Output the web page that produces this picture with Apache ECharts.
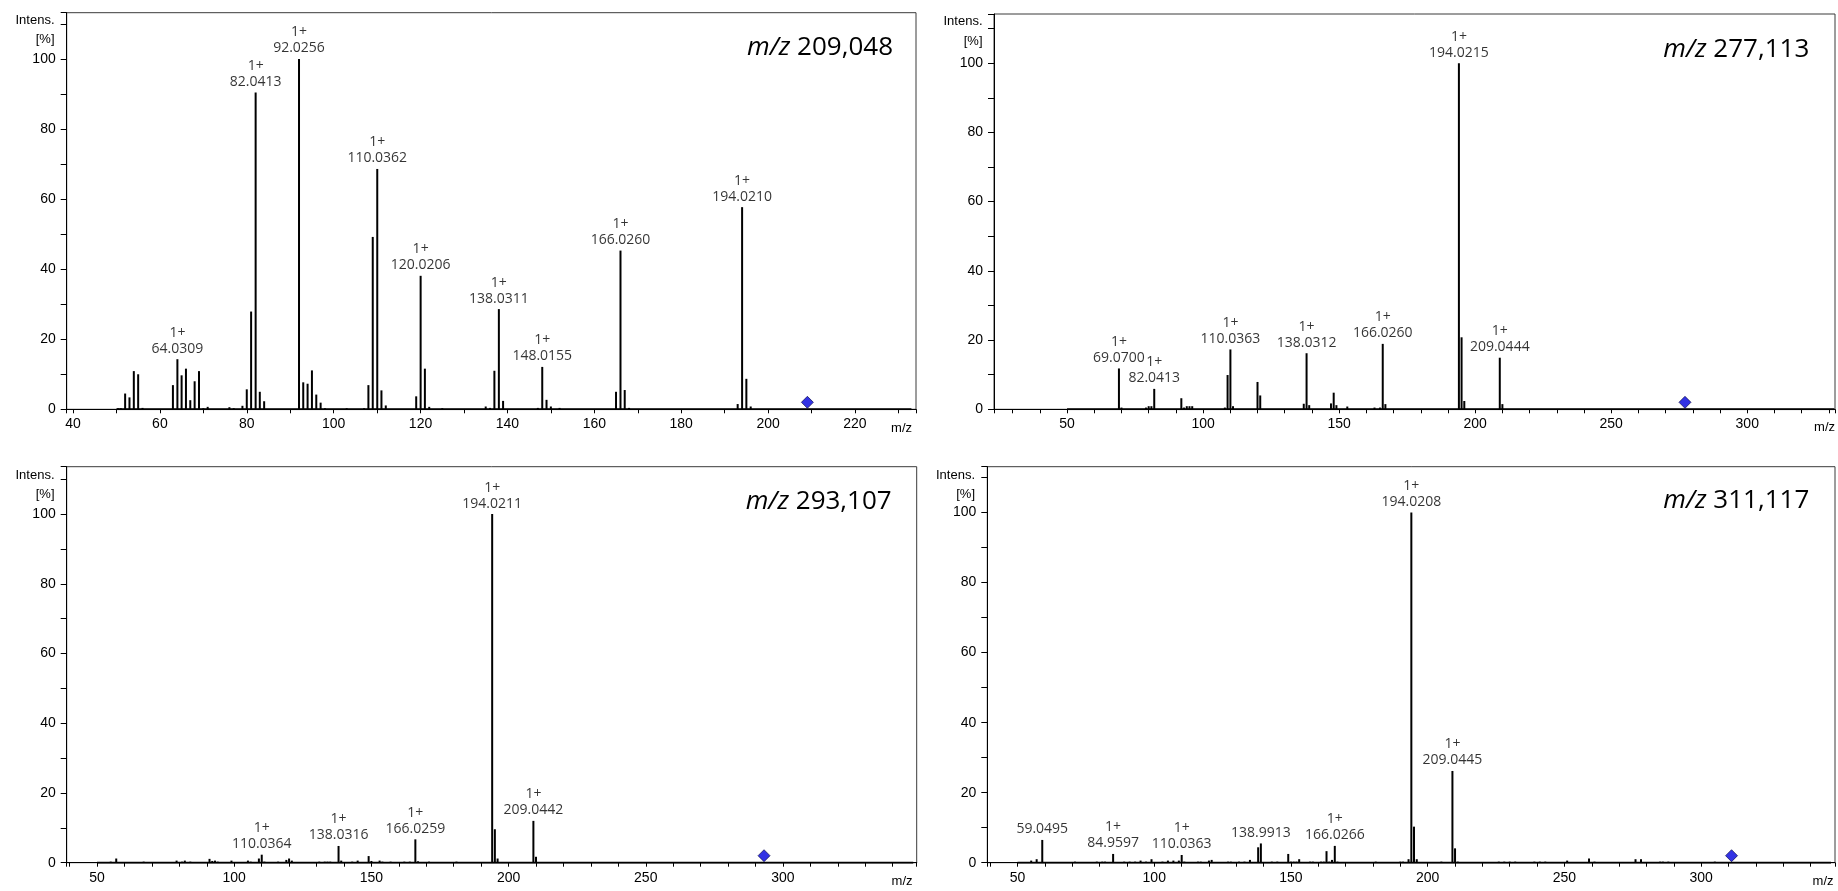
<!DOCTYPE html>
<html><head><meta charset="utf-8">
<script src="https://cdn.jsdelivr.net/npm/echarts@6/dist/echarts.min.js"></script>
<style>html,body{margin:0;padding:0;background:#fff;} #chart{width:1838px;height:891px;}</style>
</head><body><div id="chart"></div>
<script>
// ---------- Panel 1: precursor m/z 209,048 ----------
const p1Mz  = [50.4,51.0,52.0,53.0,54.0,55.0,56.0,63.0,64.0309,65.0,66.0,67.0,68.0,69.0,70.0,71.0,76.0,77.0,79.0,80.0,81.0,82.0413,83.0,84.0,92.0256,93.0,94.0,95.0,96.0,97.0,98.0,103.0,107.0,108.0,109.0,110.0362,111.0,112.0,119.0,120.0206,121.0,122.0,125.0,135.0,136.0,137.0,138.0311,139.0,147.0,148.0155,149.0,150.0,152.0,165.0,166.0260,167.0,168.0,193.0,194.0210,195.0,196.0];
const p1Int = [0.3,0.3,4.5,3.4,10.9,10.0,0.4,6.9,14.3,9.7,11.6,2.6,8.0,10.9,0.3,0.7,0.6,0.3,1.0,5.7,27.9,90.4,5.0,2.3,100,7.7,7.3,11.1,4.2,1.9,0.3,0.3,0.3,6.9,49.2,68.6,5.4,1.1,3.7,38.1,11.6,0.7,0.3,0.8,0.4,11.0,28.6,2.4,0.4,12.1,2.7,0.8,0.4,5.0,45.3,5.5,0.4,1.5,57.7,8.7,0.8];
const p1LabelMz = [64.0309,82.0413,92.0256,110.0362,120.0206,138.0311,148.0155,166.0260,194.0210];
const p1LabelCharge = ['1+','1+','1+','1+','1+','1+','1+','1+','1+'];
const p1Precursor = 209.048;
const p1Title = '209,048';
const p1ScanRange = [50, 233];

// ---------- Panel 2: precursor m/z 277,113 ----------
const p2Mz  = [69.0700,70.0,79.0,80.0,81.0,82.0413,92.0,93.0,94.0,95.0,96.0,108.0,109.0,110.0363,111.0,120.0,121.0,137.0,138.0312,139.0,147.0,148.0,149.0,153.0,163.0,165.0,166.0260,167.0,194.0215,195.0,196.0,209.0444,210.0];
const p2Int = [11.8,0.5,0.5,0.9,0.9,5.9,3.2,0.5,0.9,0.9,0.9,0.5,9.9,17.3,0.9,7.9,4.0,1.6,16.2,1.2,1.7,4.8,1.2,0.8,0.5,0.5,18.9,1.5,100,20.8,2.4,14.9,1.5];
const p2LabelMz = [69.0700,82.0413,110.0363,138.0312,166.0260,194.0215,209.0444];
const p2LabelCharge = ['1+','1+','1+','1+','1+','1+','1+'];
const p2Precursor = 277.113;
const p2Title = '277,113';
const p2ScanRange = [50, 332];

// ---------- Panel 3: precursor m/z 293,107 ----------
const p3Mz  = [55.0,57.0,67.0,79.0,81.0,82.0,84.0,91.0,92.0,93.0,94.0,99.0,105.0,106.0,109.0,110.0364,111.0,116.0,119.0,120.0,121.0,131.0,133.0,134.0,135.0,138.0316,139.0,143.0,145.0,149.0,150.0,153.0,154.0,157.0,162.0,164.0,166.0259,167.0,171.0,181.0,194.0211,195.0,196.0,209.0442,210.0];
const p3Int = [0.3,1.2,0.3,0.6,0.3,0.6,0.3,1.1,0.5,0.6,0.3,0.6,0.6,0.3,1.2,2.3,0.3,0.3,0.8,1.2,0.6,0.3,0.3,0.3,0.3,4.8,0.6,0.3,0.6,1.9,0.5,0.6,0.3,0.3,0.3,0.3,6.7,0.4,0.3,0.3,100,9.6,1.2,12.0,1.7];
const p3LabelMz = [110.0364,138.0316,166.0259,194.0211,209.0442];
const p3LabelCharge = ['1+','1+','1+','1+','1+'];
const p3Precursor = 293.107;
const p3Title = '293,107';
const p3ScanRange = [50, 347.5];

// ---------- Panel 4: precursor m/z 311,117 ----------
const p4Mz  = [55.0,57.0,59.0495,71.0,79.0,81.0,82.0,84.9597,89.0,91.0,93.0,95.0,97.0,99.0,103.0,105.0,107.0,109.0,110.0363,111.0,116.0,117.0,120.0,121.0,127.0,128.0,131.0,133.0,135.0,138.0,138.9913,143.0,145.0,149.0,150.0,151.0,152.0,153.0,157.0,158.0,161.0,162.0,163.0,164.0,165.0,166.0266,167.0,181.0,190.0,191.0,193.0,194.0208,195.0,196.0,205.0,209.0445,210.0,211.0,226.0,228.0,230.0,232.0,239.0,241.0,243.0,251.0,259.0,261.0,276.0,278.0,285.0,286.0,288.0,305.0];
const p4Int = [0.6,1.0,6.5,0.3,0.3,0.3,0.3,2.5,0.3,0.3,0.3,0.6,0.3,1.0,0.3,0.6,0.6,0.6,2.2,0.3,0.3,0.3,0.6,0.8,0.3,0.3,0.3,0.3,0.8,4.4,5.5,0.3,0.3,2.5,0.3,0.3,0.3,1.0,0.3,0.3,0.3,0.3,3.3,0.3,0.8,4.8,0.3,0.3,0.3,0.3,1.0,100,10.3,1.0,0.3,26.2,4.1,0.3,0.3,0.3,0.3,0.3,0.3,0.3,0.3,0.6,1.2,0.3,1.0,1.0,0.3,0.3,0.3,0.3];
const p4LabelMz = [59.0495,84.9597,110.0363,138.9913,166.0266,194.0208,209.0445];
const p4LabelCharge = ['','1+','1+','','1+','1+','1+'];
const p4Precursor = 311.117;
const p4Title = '311,117';
const p4ScanRange = [50, 347.5];

// ---------- assemble ----------
const panels = [
  {mz:p1Mz, it:p1Int, lmz:p1LabelMz, lz:p1LabelCharge, prec:p1Precursor, title:p1Title, range:p1ScanRange},
  {mz:p2Mz, it:p2Int, lmz:p2LabelMz, lz:p2LabelCharge, prec:p2Precursor, title:p2Title, range:p2ScanRange},
  {mz:p3Mz, it:p3Int, lmz:p3LabelMz, lz:p3LabelCharge, prec:p3Precursor, title:p3Title, range:p3ScanRange},
  {mz:p4Mz, it:p4Int, lmz:p4LabelMz, lz:p4LabelCharge, prec:p4Precursor, title:p4Title, range:p4ScanRange}
];

// layout (pixel geometry, not data)
const L = [
  {left:66.7, top:12.7, width:849.3, height:396.6, xMin:38.55, xMax:234.05, yMax:113.2, xStep:20,
   titleRight:945, titleTop:35, intensX:54.5, intensY:20, pctY:39.5, mzX:912, mzY:428},
  {left:994, top:14, width:842.7, height:395.3, xMin:23.15, xMax:332.25, yMax:114.2, xStep:50,
   titleRight:28.7, titleTop:37, intensX:982.5, intensY:21.7, pctY:41, mzX:1835, mzY:427},
  {left:66.7, top:466.7, width:850, height:396, xMin:38.95, xMax:348.75, yMax:113.6, xStep:50,
   titleRight:946.3, titleTop:489, intensX:54.5, intensY:475, pctY:494.5, mzX:912.5, mzY:881},
  {left:987.3, top:466.7, width:849.4, height:396, xMin:38.95, xMax:348.95, yMax:113.1, xStep:50,
   titleRight:28.7, titleTop:488, intensX:975, intensY:475, pctY:494.5, mzX:1833.5, mzY:881}
];

const AXIS_FONT = '"Liberation Sans", Arial, sans-serif';
const LABEL_FONT = '"Open Sans", "Noto Sans", sans-serif';

const grids = [], xAxes = [], yAxes = [], series = [], titles = [], graphics = [];

panels.forEach(function (P, i) {
  const G = L[i];
  grids.push({left:G.left, top:G.top, width:G.width, height:G.height, show:true,
    borderColor:'#3a3a3a', borderWidth:1, backgroundColor:'transparent'});
  xAxes.push({gridIndex:i, type:'value', min:G.xMin, max:G.xMax, splitNumber:30,
    minInterval:10, maxInterval:10,
    axisLine:{show:true, onZero:false, lineStyle:{color:'#000', width:1}},
    axisTick:{show:true, inside:false, length:4, lineStyle:{color:'#000', width:1}},
    axisLabel:{show:true, margin:8, color:'#000', fontFamily:AXIS_FONT, fontSize:14,
      formatter:(function(step){ return function(v){ return (Math.abs(v/step - Math.round(v/step)) < 1e-6) ? String(Math.round(v)) : ''; }; })(G.xStep)},
    splitLine:{show:false}});
  yAxes.push({gridIndex:i, type:'value', min:0, max:G.yMax, splitNumber:11,
    minInterval:10, maxInterval:10,
    axisLine:{show:true, lineStyle:{color:'#000', width:1}},
    axisTick:{show:true, inside:false, length:6, lineStyle:{color:'#000', width:1}},
    axisLabel:{show:true, margin:11, color:'#000', fontFamily:AXIS_FONT, fontSize:14,
      formatter:function(v){ return (Math.abs(v/20 - Math.round(v/20)) < 1e-6) ? String(Math.round(v)) : ''; }},
    splitLine:{show:false}});

  // scan baseline
  series.push({type:'line', xAxisIndex:i, yAxisIndex:i, silent:true, symbol:'none', z:3,
    data:[[P.range[0],0],[P.range[1],0]], lineStyle:{color:'#000', width:2}});

  // stick spectrum
  series.push({type:'custom', xAxisIndex:i, yAxisIndex:i, silent:true, z:4,
    data:P.mz.map(function(m,k){ return [m, P.it[k]]; }),
    renderItem:function(params, api){
      const x = api.value(0), y = api.value(1);
      const a = api.coord([x, 0]), b = api.coord([x, y]);
      return {type:'line', shape:{x1:a[0], y1:a[1], x2:b[0], y2:b[1]},
        style:{stroke:'#000', lineWidth:2}};
    }});

  // peak annotations
  series.push({type:'scatter', xAxisIndex:i, yAxisIndex:i, silent:true, z:5,
    symbolSize:1, itemStyle:{color:'rgba(0,0,0,0)'},
    data:P.lmz.map(function(m,k){
      const inten = P.it[P.mz.indexOf(m)];
      const txt = (P.lz[k] ? P.lz[k] + '\n' : '') + m.toFixed(4);
      return [m, inten, txt];
    }),
    label:{show:true, position:'top', distance:2, color:'#000', fontFamily:LABEL_FONT,
      fontSize:14, lineHeight:16, formatter:function(p){ return p.data[2]; }}});

  // precursor diamond
  series.push({type:'scatter', xAxisIndex:i, yAxisIndex:i, silent:true, z:6,
    symbol:'diamond', symbolSize:12, symbolOffset:[0,-7],
    itemStyle:{color:'#0000dd', borderColor:'#000040', borderWidth:0.8},
    data:[[P.prec, 0]]});

  titles.push({text:'{i|m/z} ' + P.title, right:G.titleRight, top:G.titleTop, padding:0,
    textStyle:{fontFamily:LABEL_FONT, fontSize:26, fontWeight:'normal', color:'#000',
      rich:{i:{fontFamily:LABEL_FONT, fontSize:26, fontStyle:'italic', color:'#000'}}}});

  graphics.push({type:'text', x:G.intensX, y:G.intensY, silent:true,
    style:{text:'Intens.', fill:'#000', font:'13px ' + AXIS_FONT, textAlign:'right', textVerticalAlign:'middle', align:'right', verticalAlign:'middle'}});
  graphics.push({type:'text', x:G.intensX, y:G.pctY, silent:true,
    style:{text:'[%]', fill:'#000', font:'13px ' + AXIS_FONT, textAlign:'right', textVerticalAlign:'middle', align:'right', verticalAlign:'middle'}});
  graphics.push({type:'text', x:G.mzX, y:G.mzY, silent:true,
    style:{text:'m/z', fill:'#000', font:'13px ' + AXIS_FONT, textAlign:'right', textVerticalAlign:'middle', align:'right', verticalAlign:'middle'}});
});

const chart = echarts.init(document.getElementById('chart'), null, {renderer:'canvas'});
chart.setOption({
  animation:false,
  backgroundColor:'#fff',
  title:titles,
  grid:grids,
  xAxis:xAxes,
  yAxis:yAxes,
  series:series,
  graphic:{elements:graphics}
});
</script></body></html>
